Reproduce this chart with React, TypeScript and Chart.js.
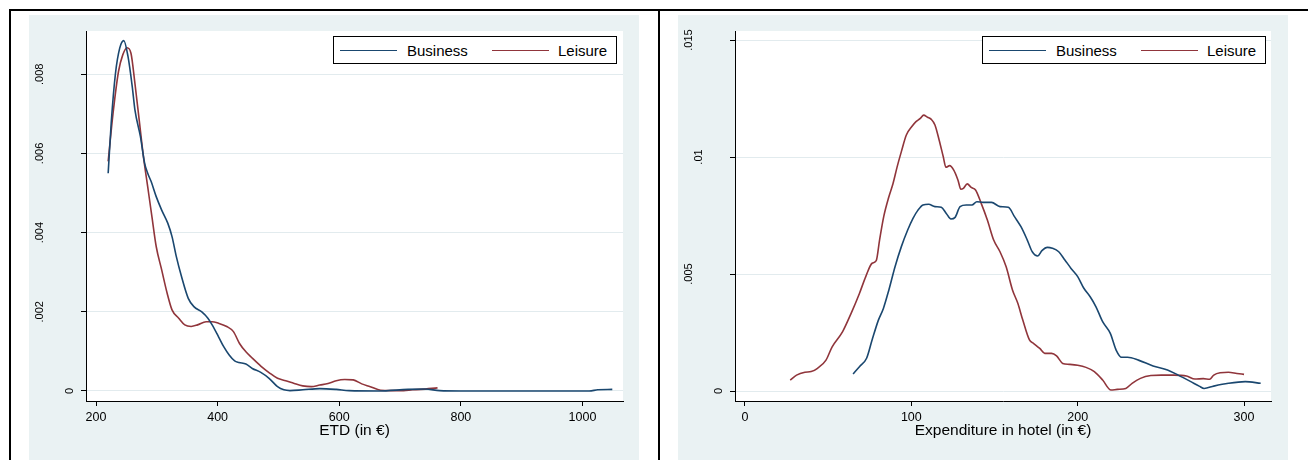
import React, { useEffect, useRef } from "react";
import { Chart, registerables } from "chart.js";

Chart.register(...registerables);

// ---------- data ----------
const seriesNames = ["Business", "Leisure"];
const seriesColors = ["#1a476f", "#90353b"];

// Panel 1: ETD (in €)
const etdXTicks = [200, 400, 600, 800, 1000];
const etdYTicks = [0, 0.002, 0.004, 0.006, 0.008];
const etdYLabels = ["0", ".002", ".004", ".006", ".008"];

const etdBusinessX = [220, 225, 232, 239, 245.7, 252.6, 259.6, 264, 273, 280, 285, 290.7, 299, 308, 318, 325, 332, 340.6, 351.7, 361, 374, 384, 391, 401.5, 410, 419, 428, 435, 446.5, 457, 471, 484.6, 498.5, 509, 519, 540, 568, 595, 616, 665, 713, 741, 765, 800, 900, 1011, 1025, 1049];
const etdBusinessY = [0.0055, 0.00677, 0.00802, 0.00866, 0.00885, 0.00845, 0.00769, 0.0071, 0.00643, 0.00575, 0.0055, 0.00529, 0.00491, 0.00457, 0.00424, 0.0039, 0.0034, 0.00289, 0.00234, 0.00213, 0.002, 0.00184, 0.00167, 0.00137, 0.00112, 0.00091, 0.00076, 0.00072, 0.00068, 0.00057, 0.00047, 0.00032, 0.00011, 0.00003, 0.00001, 0.00003, 0.00006, 0.00004, 0.00001, 0, 0.00004, 0.00005, 0.00001, 0, 0, 0, 0.00003, 0.00004];

const etdLeisureX = [220, 228, 237, 244, 251, 257.5, 264, 271, 278, 285, 292, 299, 308, 317, 325, 336, 346, 356.5, 367, 381, 391, 401.5, 415, 426, 436, 446.5, 457, 471, 485, 498.5, 512, 526, 540, 554, 568, 581.6, 595, 609, 623, 637, 651, 668, 685, 706, 720, 734, 761.6];
const etdLeisureY = [0.0058, 0.00701, 0.00807, 0.00849, 0.00867, 0.00853, 0.00777, 0.00685, 0.00592, 0.00516, 0.0044, 0.00365, 0.00306, 0.00247, 0.00205, 0.00184, 0.00167, 0.00163, 0.00167, 0.00175, 0.00175, 0.00171, 0.00163, 0.0015, 0.0012, 0.00099, 0.00083, 0.00063, 0.00046, 0.00032, 0.00026, 0.00019, 0.00013, 0.00011, 0.00015, 0.00019, 0.00026, 0.00029, 0.00028, 0.00018, 0.00011, 0.00002, 0.00001, 0.00001, 0.00003, 0.00004, 0.00008];

// Panel 2: Expenditure in hotel (in €)
const hotelXTicks = [0, 100, 200, 300];
const hotelYTicks = [0, 0.005, 0.01, 0.015];
const hotelYLabels = ["0", ".005", ".01", ".015"];

const hotelBusinessX = [65, 68.8, 73.1, 76.4, 80.2, 83.2, 86.5, 90.2, 94, 97.8, 101, 104, 107, 110.4, 114.2, 118, 121, 123.8, 126.3, 129.3, 133, 136.4, 139.4, 143.2, 148.2, 153.3, 158.3, 162, 165.9, 169.7, 172.7, 176, 178.5, 181.8, 184.8, 188.6, 192.3, 196, 200, 203.7, 207.5, 211, 215, 219.6, 223.1, 226.4, 230, 236.5, 245.3, 254, 260.4, 268, 273, 276, 281.8, 290.6, 300.7, 310];
const hotelBusinessY = [0.00073, 0.00104, 0.0014, 0.00218, 0.00303, 0.00353, 0.00432, 0.00531, 0.00617, 0.00688, 0.00738, 0.00773, 0.00795, 0.00798, 0.00788, 0.00785, 0.00759, 0.00735, 0.00742, 0.00788, 0.00795, 0.00795, 0.00809, 0.00806, 0.00806, 0.00788, 0.00785, 0.00745, 0.00702, 0.00645, 0.00595, 0.00577, 0.006, 0.00614, 0.0061, 0.00595, 0.0056, 0.00524, 0.00489, 0.00439, 0.00403, 0.0036, 0.00296, 0.00246, 0.00175, 0.00144, 0.00144, 0.00132, 0.00107, 0.0009, 0.00068, 0.0004, 0.00021, 0.00011, 0.00021, 0.00033, 0.0004, 0.00033];

const hotelLeisureX = [27.2, 31, 36, 39.8, 43.6, 48.7, 52.4, 58.7, 63.8, 68.8, 72.6, 76.4, 78.9, 80.9, 83.4, 86.5, 89, 91.5, 94, 97, 100.3, 102.8, 105.4, 107.4, 109.7, 112, 114.2, 116.7, 119.2, 120.8, 123, 125.5, 128, 129.8, 131.3, 133.6, 136, 138.6, 142, 145.7, 149.5, 153.3, 157, 160.8, 164, 167, 171, 173.4, 177.2, 180.2, 184.3, 187.3, 191, 194.9, 200, 205, 210, 215, 220, 223.8, 228.9, 232.7, 237.7, 244, 250.3, 257.9, 265.4, 270.5, 275.5, 279.3, 281.8, 285.6, 290.6, 295.7, 300];
const hotelLeisureY = [0.00047, 0.00068, 0.0008, 0.00083, 0.00097, 0.00132, 0.00189, 0.00254, 0.00332, 0.00417, 0.00489, 0.00546, 0.00557, 0.00645, 0.00745, 0.0083, 0.00887, 0.00959, 0.01023, 0.01094, 0.0113, 0.01151, 0.01165, 0.01179, 0.0117, 0.01161, 0.01137, 0.01073, 0.01001, 0.00956, 0.00963, 0.00944, 0.00902, 0.00862, 0.00866, 0.00885, 0.0087, 0.00859, 0.00802, 0.00731, 0.00645, 0.00595, 0.00531, 0.00432, 0.00375, 0.00303, 0.00218, 0.00204, 0.00182, 0.00161, 0.00161, 0.0015, 0.00118, 0.00114, 0.0011, 0.00101, 0.00083, 0.00047, 0.00004, 0.00007, 0.00011, 0.00033, 0.00054, 0.00066, 0.00068, 0.00068, 0.00064, 0.00051, 0.00053, 0.0005, 0.00068, 0.00078, 0.0008, 0.00075, 0.00071];

// ---------- styling ----------
const FONT = "'Liberation Sans', Arial, Helvetica, sans-serif";
const PANEL_BG = "#eaf2f3";
const GRID = "#e2ebee";
const CANVAS_W = 610;
const CANVAS_H = 445;

const toPoints = (xs: number[], ys: number[]) => xs.map((x, i) => ({ x, y: ys[i] }));

const bgPlugin = {
  id: "panelBg",
  beforeDraw(chart: any) {
    const { ctx, chartArea, width, height } = chart;
    ctx.save();
    ctx.fillStyle = PANEL_BG;
    ctx.fillRect(0, 0, width, height);
    ctx.fillStyle = "#ffffff";
    ctx.fillRect(chartArea.left, chartArea.top, chartArea.right - chartArea.left, chartArea.bottom - chartArea.top);
    ctx.restore();
  },
};

type PanelSpec = {
  xs: number[][];
  ys: number[][];
  xTicks: number[];
  yTicks: number[];
  yLabels: string[];
  xMin: number;
  xMax: number;
  yMin: number;
  yMax: number;
  title: string;
  rightPad: number;
};

function buildConfig(spec: PanelSpec): any {
  const zeroPad = (s: any) => {
    s.paddingLeft = 0;
    s.paddingRight = 0;
    s.paddingTop = 0;
    s.paddingBottom = 0;
  };
  return {
    type: "line",
    data: {
      datasets: seriesNames.map((name, i) => ({
        label: name,
        data: toPoints(spec.xs[i], spec.ys[i]),
        borderColor: seriesColors[i],
        backgroundColor: seriesColors[i],
        borderWidth: 1.6,
        pointRadius: 0,
        fill: false,
        cubicInterpolationMode: "monotone",
      })),
    },
    options: {
      responsive: false,
      maintainAspectRatio: false,
      animation: false,
      events: [],
      layout: { padding: { top: 16, right: spec.rightPad, bottom: 0, left: 0 } },
      plugins: { legend: { display: false }, tooltip: { enabled: false } },
      scales: {
        x: {
          type: "linear",
          min: spec.xMin,
          max: spec.xMax,
          afterBuildTicks: (s: any) => {
            s.ticks = spec.xTicks.map((v) => ({ value: v }));
          },
          afterFit: (s: any) => {
            s.height = 59;
            zeroPad(s);
          },
          grid: { drawOnChartArea: false, drawTicks: true, tickLength: 5, tickColor: "#000", tickWidth: 1 },
          border: { display: true, color: "#000", width: 1 },
          ticks: {
            autoSkip: false,
            minRotation: 0,
            maxRotation: 0,
            padding: 4,
            color: "#000",
            font: { family: FONT, size: 12.5 },
            callback: (v: number) => String(v),
          },
          title: {
            display: true,
            text: spec.title,
            color: "#000",
            font: { family: FONT, size: 15.5 },
            padding: { top: 0, bottom: 20 },
          },
        },
        y: {
          type: "linear",
          min: spec.yMin,
          max: spec.yMax,
          afterBuildTicks: (s: any) => {
            s.ticks = spec.yTicks.map((v) => ({ value: v }));
          },
          afterFit: (s: any) => {
            s.width = 57;
            zeroPad(s);
          },
          grid: { color: GRID, lineWidth: 1, drawTicks: true, tickLength: 5, tickColor: "#000", tickWidth: 1 },
          border: { display: true, color: "#000", width: 1 },
          ticks: {
            autoSkip: false,
            minRotation: 90,
            maxRotation: 90,
            crossAlign: "center",
            padding: 0,
            color: "#000",
            font: { family: FONT, size: 11, lineHeight: "20px" },
            callback: (_v: number, i: number) => {
              const lab = spec.yLabels[i];
              const extra = lab.length > 1 ? lab.length - 1 : 0;
              return [lab, ...Array(extra).fill("")];
            },
          },
        },
      },
    },
    plugins: [bgPlugin],
  };
}

function Legend({ left }: { left: number }) {
  const lineLefts = [6, 158];
  const textLefts = [73, 224];
  return (
    <div
      style={{
        position: "absolute",
        left,
        top: 36,
        width: 284,
        height: 28,
        boxSizing: "border-box",
        border: "1px solid #000",
        background: "#fff",
        fontFamily: FONT,
        fontSize: 15,
        color: "#000",
      }}
    >
      {seriesNames.map((name, i) => (
        <React.Fragment key={name}>
          <div
            style={{
              position: "absolute",
              left: lineLefts[i],
              top: 13,
              width: 57,
              height: 0,
              borderTop: `1.5px solid ${seriesColors[i]}`,
            }}
          />
          <div
            style={{
              position: "absolute",
              left: textLefts[i],
              top: 1,
              lineHeight: "26px",
              whiteSpace: "nowrap",
            }}
          >
            {name}
          </div>
        </React.Fragment>
      ))}
    </div>
  );
}

function Panel({ left, spec }: { left: number; spec: PanelSpec }) {
  const ref = useRef<HTMLCanvasElement | null>(null);
  useEffect(() => {
    if (!ref.current) return;
    const chart = new Chart(ref.current, buildConfig(spec));
    return () => chart.destroy();
  }, []);
  return (
    <>
      <canvas
        ref={ref}
        width={CANVAS_W}
        height={CANVAS_H}
        style={{ position: "absolute", left, top: 15, width: CANVAS_W, height: CANVAS_H }}
      />
      <Legend left={left + 304} />
    </>
  );
}

const etdSpec: PanelSpec = {
  xs: [etdBusinessX, etdLeisureX],
  ys: [etdBusinessY, etdLeisureY],
  xTicks: etdXTicks,
  yTicks: etdYTicks,
  yLabels: etdYLabels,
  xMin: 183.55,
  xMax: 1066.6,
  yMin: -0.0002526,
  yMax: 0.009093,
  title: "ETD (in €)",
  rightPad: 16,
};

const hotelSpec: PanelSpec = {
  xs: [hotelBusinessX, hotelLeisureX],
  ys: [hotelBusinessY, hotelLeisureY],
  xTicks: hotelXTicks,
  yTicks: hotelYTicks,
  yLabels: hotelYLabels,
  xMin: -6.0,
  xMax: 316.2,
  yMin: -0.000427,
  yMax: 0.015385,
  title: "Expenditure in hotel (in €)",
  rightPad: 17,
};

export default function App() {
  return (
    <div
      style={{
        position: "absolute",
        left: 0,
        top: 0,
        width: 1308,
        height: 460,
        overflow: "hidden",
        background: "#fff",
      }}
    >
      <div style={{ position: "absolute", left: 9, top: 9, width: 1299, height: 2, background: "#000" }} />
      <div style={{ position: "absolute", left: 9, top: 9, width: 2, height: 451, background: "#000" }} />
      <div style={{ position: "absolute", left: 658, top: 9, width: 2, height: 451, background: "#000" }} />
      <Panel left={29} spec={etdSpec} />
      <Panel left={678} spec={hotelSpec} />
    </div>
  );
}
